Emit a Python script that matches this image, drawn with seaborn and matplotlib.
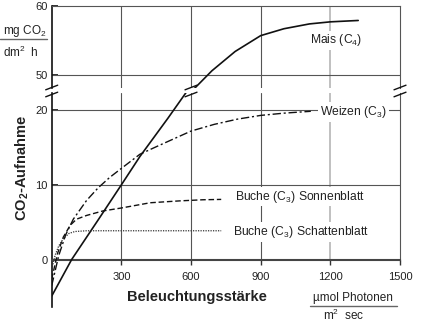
import matplotlib
matplotlib.use("Agg")
import matplotlib.pyplot as plt
from matplotlib.lines import Line2D
import seaborn as sns

# --- data ---
mais_low_x = [0, 86, 200, 300, 380, 500, 600]
mais_low_y = [-4.9, 0.0, 5.3, 10.0, 13.8, 18.9, 23.3]
mais_high_x = [605, 690, 790, 900, 1000, 1110, 1200, 1320]
mais_high_y = [47.7, 50.6, 53.4, 55.7, 56.7, 57.4, 57.7, 57.9]

weizen_x = [0, 30, 60, 93, 150, 200, 250, 300, 380, 450, 600, 700, 800, 900, 1000, 1116]
weizen_y = [-3.5, 0.5, 3.3, 5.4, 7.9, 9.6, 11.0, 12.2, 14.1, 15.1, 17.2, 18.1, 18.8, 19.3, 19.6, 19.85]

sonne_x = [0, 25, 50, 80, 107, 150, 220, 300, 424, 550, 650, 730]
sonne_y = [-2.6, 0.8, 3.0, 4.6, 5.4, 5.9, 6.5, 6.9, 7.6, 7.85, 8.0, 8.05]

schatten_x = [0, 15, 30, 50, 75, 100, 150, 300, 500, 730]
schatten_y = [-1.3, 0.6, 1.8, 2.8, 3.5, 3.75, 3.85, 3.85, 3.85, 3.85]

x_ticks = [300, 600, 900, 1200, 1500]
low_ticks = [0, 10, 20]
high_ticks = [50, 60]

BREAK_X = 600

sns.set_style("white")
plt.rcParams['font.family'] = ['Liberation Sans', 'DejaVu Sans']
plt.rcParams['mathtext.fontset'] = 'custom'
plt.rcParams['mathtext.rm'] = 'Liberation Sans'
plt.rcParams['mathtext.it'] = 'Liberation Sans:italic'
plt.rcParams['mathtext.bf'] = 'Liberation Sans:bold'

W, H = 425, 327
fig = plt.figure(figsize=(W / 100, H / 100), dpi=100)

left = 51.7 / W
width = (400 - 51.7) / W
ax_hi = fig.add_axes([left, 1 - 88 / H, width, 82 / H])
ax_lo = fig.add_axes([left, 1 - 307 / H, width, 214 / H])

dark = '#555555'
txt = '#222222'

# --- lines ---
sns.lineplot(x=mais_low_x, y=mais_low_y, ax=ax_lo, color='#111111', lw=1.2, estimator=None, sort=False, zorder=3)
sns.lineplot(x=mais_high_x, y=mais_high_y, ax=ax_hi, color='#111111', lw=1.2, estimator=None, sort=False, zorder=3)
sns.lineplot(x=weizen_x, y=weizen_y, ax=ax_lo, color='#111111', lw=1.0, linestyle=(0, (6, 2, 1.5, 2)),
             estimator=None, sort=False, zorder=3)
sns.lineplot(x=sonne_x, y=sonne_y, ax=ax_lo, color='#111111', lw=1.0, linestyle=(0, (4, 2)),
             estimator=None, sort=False, zorder=3)
sns.lineplot(x=schatten_x, y=schatten_y, ax=ax_lo, color='#333333', lw=0.9, linestyle=(0, (1, 1)),
             estimator=None, sort=False, zorder=3)

# --- axes limits ---
for ax in (ax_hi, ax_lo):
    ax.set_xlim(0, 1500)
    ax.set_xlabel('')
    ax.set_ylabel('')
ax_hi.set_ylim(48.1, 60)
ax_lo.set_ylim(-6.36, 22.3)

# --- grid ---
lo0 = (0 - (-6.36)) / (22.3 + 6.36)
for xv in x_ticks[:-1]:
    c, lw = (dark, 0.8) if xv != 1200 else ('#bbbbbb', 1.3)
    ax_hi.axvline(xv, color=c, lw=lw, zorder=1)
    ax_lo.axvline(xv, ymin=lo0, ymax=1, color=c, lw=lw, zorder=1)
for yv in low_ticks[1:]:
    ax_lo.axhline(yv, color=dark, lw=0.8, zorder=1)
ax_hi.axhline(high_ticks[0], color=dark, lw=0.8, zorder=1)

# --- spines / ticks ---
ax_hi.spines['bottom'].set_visible(False)
ax_hi.set_xticks([])
ax_hi.set_yticks(high_ticks)
for s in ('top', 'right'):
    ax_hi.spines[s].set_color(dark)
    ax_hi.spines[s].set_linewidth(0.8)
ax_hi.spines['left'].set_color('#111111')
ax_hi.spines['left'].set_linewidth(1.2)

ax_lo.spines['top'].set_visible(False)
ax_lo.spines['right'].set_color(dark)
ax_lo.spines['right'].set_linewidth(0.8)
ax_lo.spines['right'].set_bounds(0, 22.3)
ax_lo.spines['left'].set_color('#111111')
ax_lo.spines['left'].set_linewidth(1.2)
ax_lo.spines['bottom'].set_position(('data', 0))
ax_lo.spines['bottom'].set_color('#444444')
ax_lo.spines['bottom'].set_linewidth(1.5)
ax_lo.set_xticks(x_ticks)
ax_lo.set_xticklabels([str(v) for v in x_ticks])
ax_lo.set_yticks(low_ticks)

for ax in (ax_hi, ax_lo):
    ax.tick_params(axis='y', direction='in', length=4.5, width=1.2, pad=2.7,
                   labelsize=8, labelcolor=txt, color='#111111', left=True)
ax_lo.tick_params(axis='x', direction='out', length=3.6, width=1, pad=5.5,
                  labelsize=8, labelcolor=txt, color='#333333', bottom=True)


# --- break marks ---
def brk(xf, yf):
    dx, dy = 6 / W, 2.3 / H
    fig.add_artist(Line2D([xf - dx, xf + dx], [yf - dy, yf + dy], color='#111111', lw=1.0,
                          transform=fig.transFigure))


y_top_lo = 1 - 93 / H
y_bot_hi = 1 - 88 / H
for xf in (left, left + width, left + width * BREAK_X / 1500):
    brk(xf, y_bot_hi + 0.5 / H)
    brk(xf, y_top_lo - 1.5 / H)

# --- curve labels ---
box = dict(facecolor='white', edgecolor='none', pad=1.2)
ax_hi.text(1112, 55.0, 'Mais (C$_4$)', fontsize=8.7, color=txt, va='center', ha='left', bbox=box, zorder=4)
ax_lo.text(1156, 19.76, 'Weizen (C$_3$)', fontsize=8.7, color=txt, va='center', ha='left', bbox=box, zorder=4)
ax_lo.text(788, 8.41, 'Buche (C$_3$) Sonnenblatt', fontsize=8.7, color=txt, va='center', ha='left',
           bbox=box, zorder=4)
ax_lo.text(780, 3.68, 'Buche (C$_3$) Schattenblatt', fontsize=8.7, color=txt, va='center', ha='left',
           bbox=box, zorder=4)

# --- axis titles ---
fig.text(197 / W, 1 - 297 / H, 'Beleuchtungsstärke', fontsize=10.5, fontweight='bold',
         ha='center', va='center', color=txt)
fig.text(22 / W, 1 - 168 / H, r'CO$_\mathbf{2}$-Aufnahme', fontsize=10.5, fontweight='bold',
         rotation=90, ha='center', va='center', color=txt)

# units as fractions
fig.text(3 / W, 1 - 31 / H, 'mg CO$_2$', fontsize=8.5, ha='left', va='center', color=txt)
fig.add_artist(Line2D([0 / W, 47 / W], [1 - 39 / H, 1 - 39 / H], color='#666666', lw=1.0,
                      transform=fig.transFigure))
fig.text(3 / W, 1 - 52 / H, 'dm$^2$  h', fontsize=8.5, ha='left', va='center', color=txt)

fig.text(353 / W, 1 - 298 / H, 'µmol Photonen', fontsize=8.5, ha='center', va='center', color=txt)
fig.add_artist(Line2D([310 / W, 397 / W], [1 - 306 / H, 1 - 306 / H], color='#666666', lw=1.0,
                      transform=fig.transFigure))
fig.text(344 / W, 1 - 315 / H, 'm$^2$  sec', fontsize=8.5, ha='center', va='center', color=txt)

fig.savefig('out.png', dpi=100)
